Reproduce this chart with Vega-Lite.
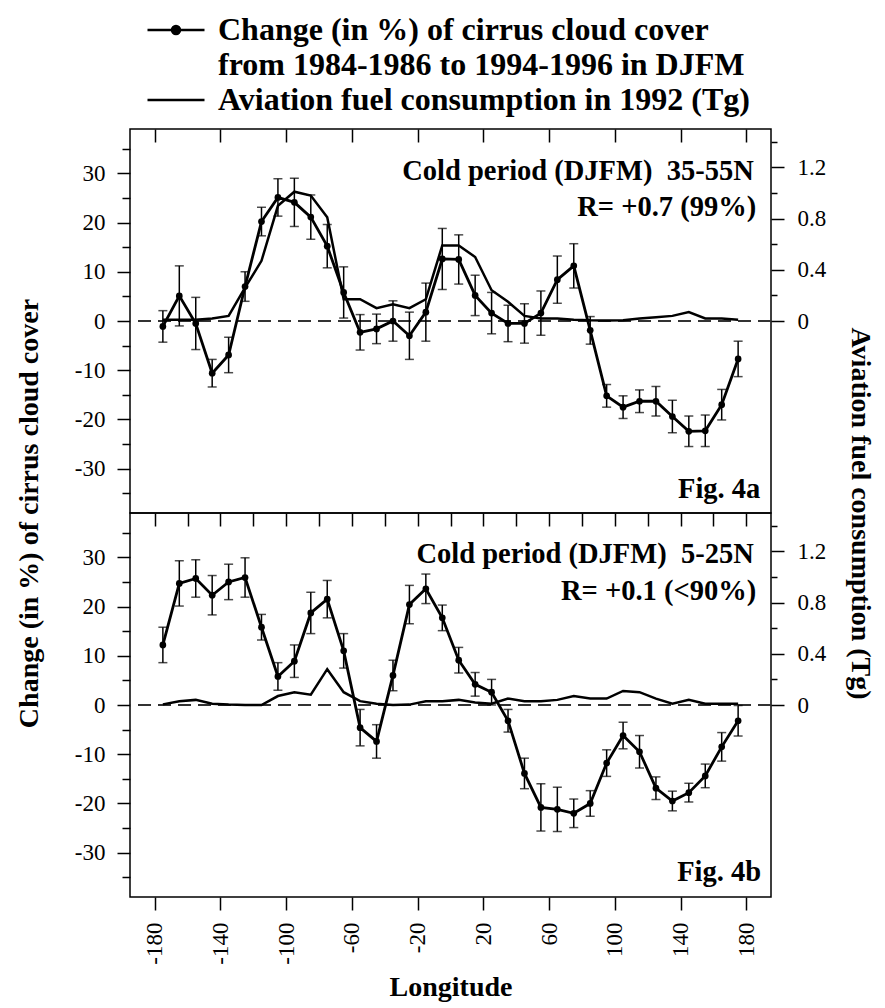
{
  "$schema": "https://vega.github.io/schema/vega-lite/v6.json",
  "background": "white",
  "padding": {"left": 14, "top": 14, "right": 2, "bottom": 2},
  "spacing": 0,
  "bounds": "flush",
  "config": {
    "font": "Liberation Serif",
    "mark": {"color": "black"},
    "view": {"stroke": "black", "strokeWidth": 1.5},
    "axis": {
      "domain": false, "grid": false,
      "labelFont": "Liberation Serif", "labelFontSize": 23, "labelColor": "black",
      "labelFlush": false, "labelOverlap": false,
      "tickColor": "black", "tickWidth": 1.5,
      "titleFont": "Liberation Serif", "titleFontSize": 28, "titleFontWeight": "bold", "titleColor": "black"
    }
  },
  "datasets": {
    "a": [
      {"lon": -175, "cc": -1.1, "err": 3.2, "fuel": 0.01},
      {"lon": -165, "cc": 5.1, "err": 6.1, "fuel": 0.01},
      {"lon": -155, "cc": -0.5, "err": 5.3, "fuel": 0.01},
      {"lon": -145, "cc": -10.6, "err": 2.8, "fuel": 0.02},
      {"lon": -135, "cc": -6.9, "err": 3.6, "fuel": 0.04},
      {"lon": -125, "cc": 7.0, "err": 3.0, "fuel": 0.26},
      {"lon": -115, "cc": 20.2, "err": 2.9, "fuel": 0.47},
      {"lon": -105, "cc": 25.1, "err": 3.8, "fuel": 0.90},
      {"lon": -95, "cc": 24.1, "err": 4.9, "fuel": 1.01},
      {"lon": -85, "cc": 21.1, "err": 4.5, "fuel": 0.98},
      {"lon": -75, "cc": 15.2, "err": 4.4, "fuel": 0.81},
      {"lon": -65, "cc": 5.8, "err": 5.2, "fuel": 0.17},
      {"lon": -55, "cc": -2.3, "err": 3.6, "fuel": 0.17},
      {"lon": -45, "cc": -1.6, "err": 3.0, "fuel": 0.10},
      {"lon": -35, "cc": 0.0, "err": 4.1, "fuel": 0.13},
      {"lon": -25, "cc": -3.0, "err": 4.8, "fuel": 0.10},
      {"lon": -15, "cc": 1.8, "err": 5.9, "fuel": 0.17},
      {"lon": -5, "cc": 12.6, "err": 6.2, "fuel": 0.59},
      {"lon": 5, "cc": 12.5, "err": 5.0, "fuel": 0.59},
      {"lon": 15, "cc": 5.2, "err": 4.1, "fuel": 0.50},
      {"lon": 25, "cc": 1.6, "err": 4.2, "fuel": 0.24},
      {"lon": 35, "cc": -0.5, "err": 3.7, "fuel": 0.15},
      {"lon": 45, "cc": -0.5, "err": 4.0, "fuel": 0.04},
      {"lon": 55, "cc": 1.6, "err": 4.5, "fuel": 0.02},
      {"lon": 65, "cc": 8.4, "err": 4.8, "fuel": 0.02},
      {"lon": 75, "cc": 11.2, "err": 4.5, "fuel": 0.01},
      {"lon": 85, "cc": -1.9, "err": 2.8, "fuel": 0.005},
      {"lon": 95, "cc": -15.2, "err": 2.3, "fuel": 0.003},
      {"lon": 105, "cc": -17.5, "err": 2.3, "fuel": 0.005},
      {"lon": 115, "cc": -16.3, "err": 2.3, "fuel": 0.02},
      {"lon": 125, "cc": -16.3, "err": 3.0, "fuel": 0.03},
      {"lon": 135, "cc": -19.4, "err": 3.3, "fuel": 0.04},
      {"lon": 145, "cc": -22.4, "err": 3.1, "fuel": 0.07},
      {"lon": 155, "cc": -22.3, "err": 3.2, "fuel": 0.02},
      {"lon": 165, "cc": -17.0, "err": 3.1, "fuel": 0.02},
      {"lon": 175, "cc": -7.7, "err": 3.6, "fuel": 0.01}
    ],
    "b": [
      {"lon": -175, "cc": 12.2, "err": 3.6, "fuel": 0.005},
      {"lon": -165, "cc": 24.7, "err": 4.6, "fuel": 0.03},
      {"lon": -155, "cc": 25.7, "err": 3.8, "fuel": 0.04},
      {"lon": -145, "cc": 22.3, "err": 4.0, "fuel": 0.01},
      {"lon": -135, "cc": 25.0, "err": 3.6, "fuel": 0.003},
      {"lon": -125, "cc": 25.9, "err": 4.0, "fuel": 0.0},
      {"lon": -115, "cc": 15.8, "err": 2.6, "fuel": 0.0},
      {"lon": -105, "cc": 5.8, "err": 2.8, "fuel": 0.07},
      {"lon": -95, "cc": 8.9, "err": 3.3, "fuel": 0.10},
      {"lon": -85, "cc": 18.7, "err": 4.2, "fuel": 0.08},
      {"lon": -75, "cc": 21.5, "err": 3.8, "fuel": 0.28},
      {"lon": -65, "cc": 11.0, "err": 3.5, "fuel": 0.10},
      {"lon": -55, "cc": -4.6, "err": 3.7, "fuel": 0.03},
      {"lon": -45, "cc": -7.4, "err": 3.4, "fuel": 0.01},
      {"lon": -35, "cc": 6.0, "err": 3.1, "fuel": 0.0},
      {"lon": -25, "cc": 20.4, "err": 3.9, "fuel": 0.003},
      {"lon": -15, "cc": 23.6, "err": 3.0, "fuel": 0.03},
      {"lon": -5, "cc": 17.7, "err": 2.6, "fuel": 0.03},
      {"lon": 5, "cc": 9.1, "err": 2.6, "fuel": 0.04},
      {"lon": 15, "cc": 4.2, "err": 2.4, "fuel": 0.02},
      {"lon": 25, "cc": 2.6, "err": 2.6, "fuel": 0.01},
      {"lon": 35, "cc": -3.2, "err": 2.3, "fuel": 0.05},
      {"lon": 45, "cc": -13.9, "err": 3.1, "fuel": 0.03},
      {"lon": 55, "cc": -20.8, "err": 4.8, "fuel": 0.03},
      {"lon": 65, "cc": -21.2, "err": 4.5, "fuel": 0.04},
      {"lon": 75, "cc": -22.0, "err": 2.9, "fuel": 0.07},
      {"lon": 85, "cc": -20.0, "err": 2.6, "fuel": 0.05},
      {"lon": 95, "cc": -11.8, "err": 2.7, "fuel": 0.05},
      {"lon": 105, "cc": -6.2, "err": 2.7, "fuel": 0.11},
      {"lon": 115, "cc": -9.5, "err": 3.3, "fuel": 0.10},
      {"lon": 125, "cc": -16.9, "err": 2.3, "fuel": 0.05},
      {"lon": 135, "cc": -19.5, "err": 2.0, "fuel": 0.01},
      {"lon": 145, "cc": -17.8, "err": 1.9, "fuel": 0.04},
      {"lon": 155, "cc": -14.4, "err": 2.4, "fuel": 0.01},
      {"lon": 165, "cc": -8.5, "err": 2.9, "fuel": 0.01},
      {"lon": 175, "cc": -3.2, "err": 3.1, "fuel": 0.01}
    ]
  },
  "vconcat": [
    {
      "width": 641,
      "height": 384,
      "data": {"name": "a"},
      "resolve": {"scale": {"y": "independent"}},
      "layer": [
        {
          "layer": [
            {
              "mark": {"type": "rule", "stroke": "#333333", "strokeWidth": 1.5, "strokeDash": [13, 7]},
              "encoding": {
                "y": {
                  "datum": 0, "type": "quantitative",
                  "scale": {"domain": [-39, 39], "nice": false, "zero": false},
                  "axis": {"orient": "left", "values": [-35, -30, -25, -20, -15, -10, -5, 0, 5, 10, 15, 20, 25, 30, 35], "tickSize": {"condition": {"test": "datum.value % 10 == 0", "value": 13}, "value": 8}, "labelExpr": "datum.value % 10 == 0 ? toString(datum.value) : ''", "labelPadding": 12, "title": "Change (in %) of cirrus cloud cover", "titleY": 384, "titlePadding": 31}
                }
              }
            },
            {
              "mark": {"type": "errorbar", "ticks": {"size": 9, "thickness": 1.5, "color": "black"}, "rule": {"strokeWidth": 1.5, "color": "black"}},
              "encoding": {
                "x": {
                  "field": "lon", "type": "quantitative",
                  "scale": {"domain": [-195, 195], "nice": false, "zero": false},
                  "axis": {"orient": "top", "values": [-180, -160, -140, -120, -100, -80, -60, -40, -20, 0, 20, 40, 60, 80, 100, 120, 140, 160, 180], "tickSize": -13, "labels": false, "title": null}
                },
                "y": {
                  "field": "cc", "type": "quantitative",
                  "axis": {"orient": "left", "values": [-35, -30, -25, -20, -15, -10, -5, 0, 5, 10, 15, 20, 25, 30, 35], "tickSize": {"condition": {"test": "datum.value % 10 == 0", "value": 13}, "value": 8}, "labelExpr": "datum.value % 10 == 0 ? toString(datum.value) : ''", "labelPadding": 12, "title": "Change (in %) of cirrus cloud cover", "titleY": 384, "titlePadding": 31}
                },
                "yError": {"field": "err"}
              }
            },
            {
              "mark": {"type": "line", "strokeWidth": 2.8, "color": "black", "point": {"filled": true, "size": 45, "color": "black"}},
              "encoding": {
                "x": {"field": "lon", "type": "quantitative"},
                "y": {
                  "field": "cc", "type": "quantitative",
                  "axis": {"orient": "left", "values": [-35, -30, -25, -20, -15, -10, -5, 0, 5, 10, 15, 20, 25, 30, 35], "tickSize": {"condition": {"test": "datum.value % 10 == 0", "value": 13}, "value": 8}, "labelExpr": "datum.value % 10 == 0 ? toString(datum.value) : ''", "labelPadding": 12, "title": "Change (in %) of cirrus cloud cover", "titleY": 384, "titlePadding": 31}
                },
                "color": {
                  "datum": "c",
                  "scale": {"domain": ["c", "c2", "f"], "range": ["black", "black", "black"]},
                  "legend": {
                    "orient": "none", "legendX": 30, "legendY": -115,
                    "title": null, "direction": "vertical",
                    "labelExpr": "datum.value == 'c' ? 'Change (in %) of cirrus cloud cover' : datum.value == 'c2' ? 'from 1984-1986 to 1994-1996 in DJFM' : 'Aviation fuel consumption in 1992 (Tg)'",
                    "labelFont": "Liberation Serif", "labelFontSize": 32, "labelFontWeight": "bold", "labelColor": "black",
                    "labelLimit": 900, "labelOffset": 26,
                    "symbolSize": 400, "symbolStrokeWidth": 2.5, "rowPadding": 3,
                    "encode": {
                      "symbols": {
                        "update": {
                          "shape": {"signal": "datum.value == 'c' ? 'M-2.85,0L2.85,0M0.4,0A0.4,0.4,0,1,1,-0.4,0A0.4,0.4,0,1,1,0.4,0Z' : 'M-2.85,0L2.85,0'"},
                          "fill": {"value": "black"},
                          "stroke": {"value": "black"},
                          "strokeWidth": {"value": 2.5},
                          "opacity": {"signal": "datum.value == 'c2' ? 0 : 1"}
                        }
                      }
                    }
                  }
                }
              }
            },
            {
              "data": {"values": [{}]},
              "mark": {"type": "text", "align": "right", "baseline": "alphabetic", "fontSize": 28.5, "fontWeight": "bold", "font": "Liberation Serif"},
              "encoding": {
                "x": {"datum": 184.5, "type": "quantitative"},
                "y": {"datum": 28.7, "type": "quantitative", "axis": {"orient": "left", "values": [-35, -30, -25, -20, -15, -10, -5, 0, 5, 10, 15, 20, 25, 30, 35], "tickSize": {"condition": {"test": "datum.value % 10 == 0", "value": 13}, "value": 8}, "labelExpr": "datum.value % 10 == 0 ? toString(datum.value) : ''", "labelPadding": 12, "title": "Change (in %) of cirrus cloud cover", "titleY": 384, "titlePadding": 31}},
                "text": {"value": "Cold period (DJFM)\u00a0 35-55N"}
              }
            },
            {
              "data": {"values": [{}]},
              "mark": {"type": "text", "align": "right", "baseline": "alphabetic", "fontSize": 28.5, "fontWeight": "bold", "font": "Liberation Serif"},
              "encoding": {
                "x": {"datum": 186, "type": "quantitative"},
                "y": {"datum": 21.3, "type": "quantitative", "axis": {"orient": "left", "values": [-35, -30, -25, -20, -15, -10, -5, 0, 5, 10, 15, 20, 25, 30, 35], "tickSize": {"condition": {"test": "datum.value % 10 == 0", "value": 13}, "value": 8}, "labelExpr": "datum.value % 10 == 0 ? toString(datum.value) : ''", "labelPadding": 12, "title": "Change (in %) of cirrus cloud cover", "titleY": 384, "titlePadding": 31}},
                "text": {"value": "R= +0.7 (99%)"}
              }
            },
            {
              "data": {"values": [{}]},
              "mark": {"type": "text", "align": "right", "baseline": "alphabetic", "fontSize": 28.5, "fontWeight": "bold", "font": "Liberation Serif"},
              "encoding": {
                "x": {"datum": 188.5, "type": "quantitative"},
                "y": {"datum": -35.9, "type": "quantitative", "axis": {"orient": "left", "values": [-35, -30, -25, -20, -15, -10, -5, 0, 5, 10, 15, 20, 25, 30, 35], "tickSize": {"condition": {"test": "datum.value % 10 == 0", "value": 13}, "value": 8}, "labelExpr": "datum.value % 10 == 0 ? toString(datum.value) : ''", "labelPadding": 12, "title": "Change (in %) of cirrus cloud cover", "titleY": 384, "titlePadding": 31}},
                "text": {"value": "Fig. 4a"}
              }
            }
          ]
        },
        {
          "mark": {"type": "line", "strokeWidth": 2.5, "color": "black"},
          "encoding": {
            "x": {"field": "lon", "type": "quantitative"},
            "y": {
              "field": "fuel", "type": "quantitative",
              "scale": {"domain": [-1.5, 1.5], "nice": false, "zero": false},
              "axis": {"orient": "right", "values": [0, 0.2, 0.4, 0.6, 0.8, 1, 1.2, 1.4], "tickSize": {"condition": {"test": "round(datum.value * 5) % 2 == 0", "value": 13}, "value": 6}, "labelExpr": "round(datum.value * 5) % 2 == 0 ? toString(datum.value) : ''", "labelPadding": 13, "title": "Aviation fuel consumption (Tg)", "titleY": 384, "titlePadding": 20}
            },
            "color": {"datum": "f"}
          }
        }
      ]
    },
    {
      "width": 641,
      "height": 384,
      "data": {"name": "b"},
      "resolve": {"scale": {"y": "independent"}, "axis": {"x": "independent"}},
      "layer": [
        {
          "layer": [
            {
              "mark": {"type": "rule", "stroke": "#333333", "strokeWidth": 1.5, "strokeDash": [13, 7]},
              "encoding": {
                "y": {
                  "datum": 0, "type": "quantitative",
                  "scale": {"domain": [-39, 39], "nice": false, "zero": false},
                  "axis": {"orient": "left", "values": [-35, -30, -25, -20, -15, -10, -5, 0, 5, 10, 15, 20, 25, 30, 35], "tickSize": {"condition": {"test": "datum.value % 10 == 0", "value": 13}, "value": 8}, "labelExpr": "datum.value % 10 == 0 ? toString(datum.value) : ''", "labelPadding": 12, "title": null}
                }
              }
            },
            {
              "mark": {"type": "errorbar", "ticks": {"size": 9, "thickness": 1.5, "color": "black"}, "rule": {"strokeWidth": 1.5, "color": "black"}},
              "encoding": {
                "x": {
                  "field": "lon", "type": "quantitative",
                  "scale": {"domain": [-195, 195], "nice": false, "zero": false},
                  "axis": {"orient": "bottom", "values": [-180, -160, -140, -120, -100, -80, -60, -40, -20, 0, 20, 40, 60, 80, 100, 120, 140, 160, 180], "tickSize": {"condition": {"test": "(datum.value + 180) % 40 == 0", "value": 13}, "value": 7}, "labelExpr": "(datum.value + 180) % 40 == 0 ? toString(datum.value) : ''", "labelAngle": -90, "labelPadding": 12, "title": "Longitude", "titlePadding": 9}
                },
                "y": {
                  "field": "cc", "type": "quantitative",
                  "axis": {"orient": "left", "values": [-35, -30, -25, -20, -15, -10, -5, 0, 5, 10, 15, 20, 25, 30, 35], "tickSize": {"condition": {"test": "datum.value % 10 == 0", "value": 13}, "value": 8}, "labelExpr": "datum.value % 10 == 0 ? toString(datum.value) : ''", "labelPadding": 12, "title": null}
                },
                "yError": {"field": "err"}
              }
            },
            {
              "mark": {"type": "line", "strokeWidth": 2.8, "color": "black", "point": {"filled": true, "size": 45, "color": "black"}},
              "encoding": {
                "x": {"field": "lon", "type": "quantitative"},
                "y": {
                  "field": "cc", "type": "quantitative",
                  "axis": {"orient": "left", "values": [-35, -30, -25, -20, -15, -10, -5, 0, 5, 10, 15, 20, 25, 30, 35], "tickSize": {"condition": {"test": "datum.value % 10 == 0", "value": 13}, "value": 8}, "labelExpr": "datum.value % 10 == 0 ? toString(datum.value) : ''", "labelPadding": 12, "title": null}
                }
              }
            },
            {
              "data": {"values": [{}]},
              "mark": {"type": "text", "align": "right", "baseline": "alphabetic", "fontSize": 28.5, "fontWeight": "bold", "font": "Liberation Serif"},
              "encoding": {
                "x": {"datum": 184.5, "type": "quantitative"},
                "y": {"datum": 28.9, "type": "quantitative", "axis": {"orient": "left", "values": [-35, -30, -25, -20, -15, -10, -5, 0, 5, 10, 15, 20, 25, 30, 35], "tickSize": {"condition": {"test": "datum.value % 10 == 0", "value": 13}, "value": 8}, "labelExpr": "datum.value % 10 == 0 ? toString(datum.value) : ''", "labelPadding": 12, "title": null}},
                "text": {"value": "Cold period (DJFM)\u00a0 5-25N"}
              }
            },
            {
              "data": {"values": [{}]},
              "mark": {"type": "text", "align": "right", "baseline": "alphabetic", "fontSize": 28.5, "fontWeight": "bold", "font": "Liberation Serif"},
              "encoding": {
                "x": {"datum": 186, "type": "quantitative"},
                "y": {"datum": 21.4, "type": "quantitative", "axis": {"orient": "left", "values": [-35, -30, -25, -20, -15, -10, -5, 0, 5, 10, 15, 20, 25, 30, 35], "tickSize": {"condition": {"test": "datum.value % 10 == 0", "value": 13}, "value": 8}, "labelExpr": "datum.value % 10 == 0 ? toString(datum.value) : ''", "labelPadding": 12, "title": null}},
                "text": {"value": "R= +0.1 (<90%)"}
              }
            },
            {
              "data": {"values": [{}]},
              "mark": {"type": "text", "align": "right", "baseline": "alphabetic", "fontSize": 28.5, "fontWeight": "bold", "font": "Liberation Serif"},
              "encoding": {
                "x": {"datum": 189, "type": "quantitative"},
                "y": {"datum": -35.7, "type": "quantitative", "axis": {"orient": "left", "values": [-35, -30, -25, -20, -15, -10, -5, 0, 5, 10, 15, 20, 25, 30, 35], "tickSize": {"condition": {"test": "datum.value % 10 == 0", "value": 13}, "value": 8}, "labelExpr": "datum.value % 10 == 0 ? toString(datum.value) : ''", "labelPadding": 12, "title": null}},
                "text": {"value": "Fig. 4b"}
              }
            }
          ]
        },
        {
          "mark": {"type": "line", "strokeWidth": 2.5, "color": "black"},
          "encoding": {
            "x": {
              "field": "lon", "type": "quantitative",
              "axis": {"orient": "top", "values": [-180, -160, -140, -120, -100, -80, -60, -40, -20, 0, 20, 40, 60, 80, 100, 120, 140, 160, 180], "tickSize": -13, "labels": false, "title": null}
            },
            "y": {
              "field": "fuel", "type": "quantitative",
              "scale": {"domain": [-1.5, 1.5], "nice": false, "zero": false},
              "axis": {"orient": "right", "values": [0, 0.2, 0.4, 0.6, 0.8, 1, 1.2, 1.4], "tickSize": {"condition": {"test": "round(datum.value * 5) % 2 == 0", "value": 13}, "value": 6}, "labelExpr": "round(datum.value * 5) % 2 == 0 ? toString(datum.value) : ''", "labelPadding": 13, "title": null}
            }
          }
        }
      ]
    }
  ]
}
